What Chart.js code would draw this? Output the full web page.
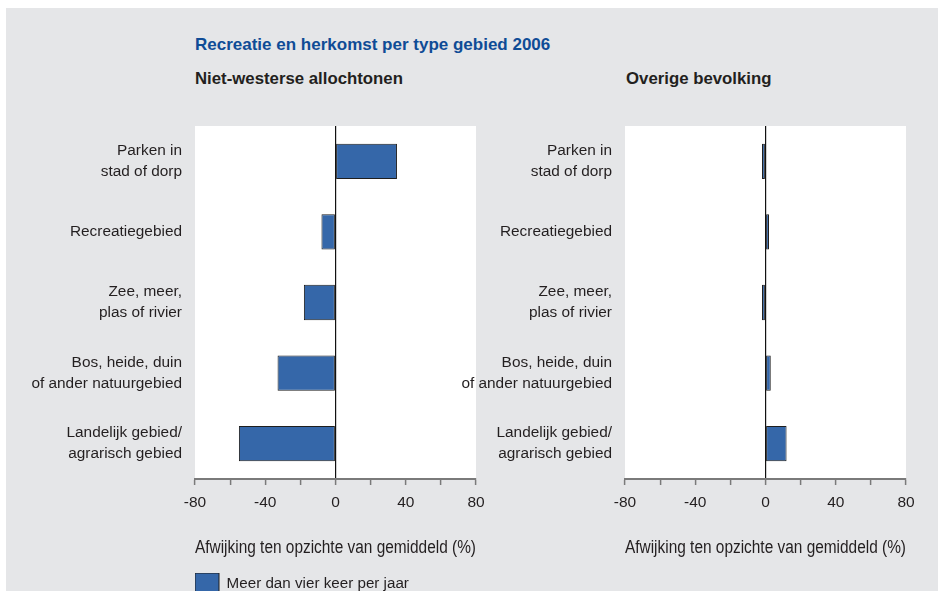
<!DOCTYPE html>
<html>
<head>
<meta charset="utf-8">
<script src="https://cdn.jsdelivr.net/npm/chart.js@4.4.1/dist/chart.umd.min.js"></script>
<style>
  html, body { margin: 0; padding: 0; width: 938px; height: 591px; overflow: hidden; background: #ffffff; }
  body { position: relative; }
  #panel { position: absolute; left: 6px; top: 8px; width: 932px; height: 583px; background: #e5e6e8; }
  .txt { position: absolute; white-space: nowrap; line-height: 1; font-family: 'Liberation Sans', Arial, sans-serif; font-weight: bold; }
  #title { left: 195px; top: 36px; font-size: 17px; color: #0f4c96; }
  #sub1 { left: 195px; top: 71px; font-size: 16.8px; color: #231f20; }
  #sub2 { left: 626px; top: 71px; font-size: 16.8px; color: #231f20; }
  canvas { position: absolute; top: 0; }
  #left { left: 0; }
  #right { left: 430px; }
</style>
</head>
<body>
<div id="panel"></div>
<div class="txt" id="title">Recreatie en herkomst per type gebied 2006</div>
<div class="txt" id="sub1">Niet-westerse allochtonen</div>
<div class="txt" id="sub2">Overige bevolking</div>
<canvas id="left" width="496" height="610"></canvas>
<canvas id="right" width="508" height="573"></canvas>
<script>
// Area types (top to bottom)
const categories = [
  ['Parken in', 'stad of dorp'],
  'Recreatiegebied',
  ['Zee, meer,', 'plas of rivier'],
  ['Bos, heide, duin', 'of ander natuurgebied'],
  ['Landelijk gebied/', 'agrarisch gebied']
];

// Deviation from the average (%), more than four visits a year
const nietWesterseAllochtonen = [35, -8, -18, -33, -55];
const overigeBevolking = [-2, 2, -2, 3, 12];

// Labelled ticks on the horizontal axis
const tickLabels = [-80, -40, 0, 40, 80];

const axisTitle = 'Afwijking ten opzichte van gemiddeld (%)';
const seriesLabel = 'Meer dan vier keer per jaar';

const FONT = "'Liberation Sans', Arial, sans-serif";
const TEXT = '#231f20';
const BAR_FILL = '#3567a9';
const BAR_EDGE = '#1e1e1e';

// White plotting area on the grey panel
const plotBackground = {
  id: 'plotBackground',
  beforeDraw(chart) {
    const { ctx, chartArea: a } = chart;
    ctx.save();
    ctx.fillStyle = '#ffffff';
    ctx.fillRect(a.left, a.top, a.right - a.left, a.bottom - a.top);
    ctx.restore();
  }
};

function buildChart(id, values, opts) {
  return new Chart(document.getElementById(id), {
    type: 'bar',
    data: {
      labels: categories,
      datasets: [{
        label: seriesLabel,
        data: values,
        backgroundColor: BAR_FILL,
        borderColor: BAR_EDGE,
        borderWidth: 1,
        borderSkipped: false,
        categoryPercentage: 1,
        barPercentage: 0.5
      }]
    },
    options: {
      indexAxis: 'y',
      responsive: false,
      animation: false,
      devicePixelRatio: 1,
      layout: { padding: { top: 126, right: opts.padRight, bottom: opts.padBottom, left: 0 } },
      plugins: {
        legend: {
          display: opts.legend,
          position: 'bottom',
          align: 'start',
          fullSize: false,
          labels: {
            boxWidth: 24,
            boxHeight: 22,
            padding: 0,
            color: TEXT,
            font: { family: FONT, size: 15.2 }
          }
        },
        tooltip: { enabled: false }
      },
      scales: {
        x: {
          type: 'linear',
          min: -80,
          max: 80,
          afterFit: s => { s.height = 94; },
          ticks: {
            stepSize: 20,
            autoSkip: false,
            maxRotation: 0,
            padding: 8,
            color: TEXT,
            font: { family: FONT, size: 15.5 },
            callback: v => tickLabels.includes(v) ? String(v) : ''
          },
          grid: {
            drawOnChartArea: true,
            color: c => (c.tick && c.tick.value === 0) ? '#111111' : 'rgba(0,0,0,0)',
            lineWidth: 1.2,
            tickColor: '#7a7a7a',
            tickLength: 6,
            tickWidth: 1.5
          },
          border: { display: true, color: '#7a7a7a', width: 2 },
          title: {
            display: true,
            text: axisTitle,
            align: 'start',
            color: TEXT,
            font: { family: FONT, size: 18 },
            padding: { top: 0, bottom: 14 }
          }
        },
        y: {
          type: 'category',
          afterFit: s => { s.width = 195; },
          grid: { display: false },
          border: { display: false },
          ticks: {
            padding: 5,
            color: TEXT,
            font: { family: FONT, size: 15.4, lineHeight: 1.36 }
          }
        }
      }
    },
    plugins: [plotBackground]
  });
}

buildChart('left', nietWesterseAllochtonen, { legend: true, padRight: 20, padBottom: 5 });
buildChart('right', overigeBevolking, { legend: false, padRight: 32, padBottom: 0 });
</script>
</body>
</html>
